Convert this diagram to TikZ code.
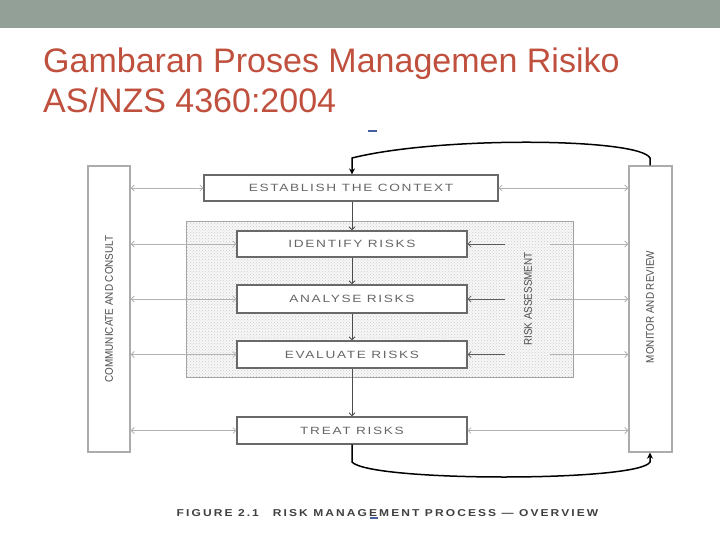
\documentclass[tikz,border=0pt]{standalone}
\usepackage{fontspec}
\setmainfont{Liberation Sans}
\newfontfamily\narrowfont[FakeStretch=0.9]{Liberation Sans}
\newfontfamily\stepfont[FakeStretch=1.3, LetterSpace=16]{Liberation Sans}
\newfontfamily\capfont[FakeStretch=1.2, LetterSpace=21]{Liberation Sans}
\usetikzlibrary{arrows.meta, patterns}
\definecolor{titlered}{RGB}{192, 80, 62}
\definecolor{bargrey}{RGB}{147, 160, 151}
\definecolor{boxgrey}{RGB}{105, 105, 105}
\definecolor{markblue}{RGB}{70, 95, 160}

\begin{document}
\begin{tikzpicture}[x=1pt, y=-1pt,
  titletext/.style={anchor=base west, inner sep=0pt, text=titlered, font=\fontsize{34}{40}\selectfont},
  stepbox/.style={draw=boxgrey, line width=1.1pt, fill=white, minimum width=230pt, minimum height=27pt, inner sep=0pt, text=black!60, font=\stepfont\fontsize{10.5}{12}\selectfont},
  sidebox/.style={draw=gray!65, line width=1.4pt, fill=white, minimum width=42pt, minimum height=286pt, inner sep=0pt},
  sidelabel/.style={rotate=90, inner sep=0pt, text=black!70, font=\narrowfont\fontsize{11}{12}\selectfont},
  band/.style={draw=gray!75, line width=1pt, fill=gray!6, postaction={pattern=crosshatch dots, pattern color=gray!40}, minimum width=387pt, minimum height=155pt, inner sep=0pt},
  linkarrow/.style={draw=gray!60, line width=0.8pt, {Straight Barb[length=3pt, width=6pt]}-{Straight Barb[length=3pt, width=6pt]}},
  innerleft/.style={draw=black!65, line width=0.8pt, {Straight Barb[length=3pt, width=6pt]}-},
  innerright/.style={draw=gray!60, line width=0.8pt, -{Straight Barb[length=3pt, width=6pt]}},
  flowarrow/.style={draw=black!70, line width=0.9pt, -{Straight Barb[length=3pt, width=6pt]}},
  loopline/.style={draw=black, line width=1.5pt, -{Stealth[length=6pt, width=6pt]}}
]
  \useasboundingbox (0,0) rectangle (720,540);
  \fill[bargrey] (0,0) rectangle (720,28);

  % title
  \node[titletext] (ttl1) at (43,73) {Gambaran Proses Managemen Risiko};
  \node[titletext] (ttl2) at (43,113) {AS/NZS 4360:2004};

  % risk assessment band and steps
  \node[band] (rab) at (379.5,299.5) {};
  \node[sidelabel] (rablbl) at (528,299) {RISK ASSESSMENT};
  \node[stepbox, minimum width=294pt, minimum height=26pt] (ctx) at (351,188) {ESTABLISH THE CONTEXT};
  \node[stepbox, minimum height=26pt] (idr) at (352,244) {IDENTIFY RISKS};
  \node[stepbox, minimum height=28pt] (anr) at (352,299) {ANALYSE RISKS};
  \node[stepbox] (evr) at (352,354.5) {EVALUATE RISKS};
  \node[stepbox] (trr) at (352,430.5) {TREAT RISKS};

  % side boxes
  \node[sidebox] (comm) at (109,309) {};
  \node[sidelabel] (commlbl) at (109,309) {COMMUNICATE AND CONSULT};
  \node[sidebox, minimum width=43pt] (mon) at (650.5,309) {};
  \node[sidelabel] (monlbl) at (650,307) {MONITOR AND REVIEW};

  % links to the side boxes
  \coordinate (gapL) at (505,0);
  \coordinate (gapR) at (550,0);
  \foreach \b in {ctx, trr} {
    \draw[linkarrow] (comm.east |- \b) -- (\b.west);
    \draw[linkarrow] (\b.east) -- (mon.west |- \b);
  }
  \foreach \b in {idr, anr, evr} {
    \draw[linkarrow] (comm.east |- \b) -- (\b.west);
    \draw[innerleft] (\b.east) -- (\b.east -| gapL);
    \draw[innerright] (\b.east -| gapR) -- (mon.west |- \b);
  }

  % main flow
  \draw[flowarrow] (ctx.south -| idr) -- (idr.north);
  \draw[flowarrow] (idr) -- (anr);
  \draw[flowarrow] (anr) -- (evr);
  \draw[flowarrow] (evr) -- (trr);

  % feedback loops
  \coordinate (topR) at (650,158);
  \coordinate (topL) at (352,158);
  \coordinate (botL) at (352,462);
  \coordinate (botR) at (650,462);
  \draw[loopline] (mon.north -| topR) -- (topR) .. controls (640,138) and (440,136) .. (topL) -- (ctx.north -| topL);
  \draw[loopline] (trr.south) -- (botL) .. controls (370,482) and (640,482) .. (botR) -- (mon.south -| botR);

  % caption
  \node[inner sep=0pt, text=black!75, font=\capfont\bfseries\fontsize{10}{11}\selectfont] (fig) at (387.5,513) {FIGURE 2.1\hspace{14pt}RISK MANAGEMENT PROCESS — OVERVIEW};

  % stray marks
  \draw[markblue, line width=1.5pt] (368,131) -- (377,131);
  \draw[markblue, line width=1.5pt] (370,518) -- (378,518);
\end{tikzpicture}
\end{document}
